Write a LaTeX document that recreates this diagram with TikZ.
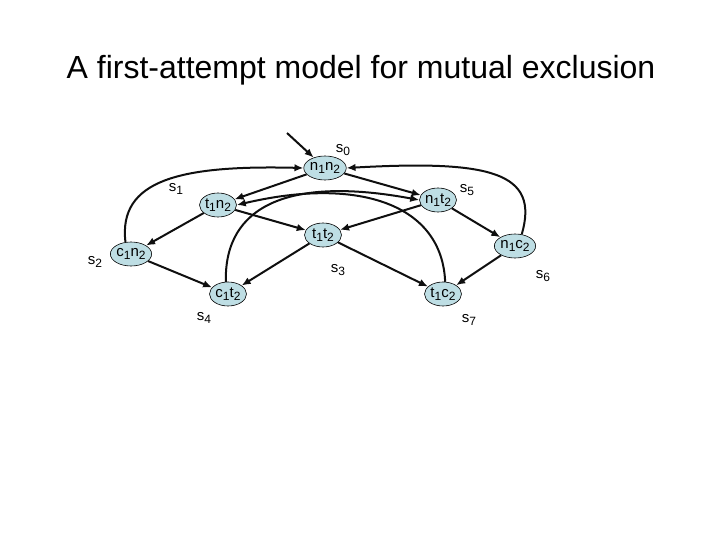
\documentclass[tikz,border=0pt]{standalone}
\usepackage{fontspec}
\setmainfont{Liberation Sans}
\usetikzlibrary{arrows.meta, shapes.geometric}
\definecolor{statefill}{RGB}{190, 222, 228}
\definecolor{edgeink}{RGB}{15, 15, 15}
\newcommand{\lowidx}[1]{\raisebox{-3.5pt}{\fontsize{12}{12}\selectfont #1}}

\begin{document}
\begin{tikzpicture}[
        x=1pt, y=-1pt,
        every node/.style={font=\fontsize{15}{17}\selectfont},
        state/.style={ellipse, draw=black, fill=statefill, line width=0.6pt,
                      minimum width=37pt, minimum height=24pt, inner sep=0pt},
        lbl/.style={font=\fontsize{15}{17}\selectfont, inner sep=0pt},
        arr/.style={-{Latex[length=9pt, width=7.5pt]}, line width=2pt, edgeink},
        ttl/.style={font=\fontsize{32}{36}\selectfont, inner sep=0pt}
      ]
        \useasboundingbox (0,0) rectangle (720,540);

        \node[ttl] (title) at (361,70) {A first-attempt model for mutual exclusion};

        % states
        \node[state] (n1n2) at (325,168) {n\lowidx{1}n\lowidx{2}};
        \node[state] (t1n2) at (218,205) {t\lowidx{1}n\lowidx{2}};
        \node[state] (c1n2) at (131,254) {c\lowidx{1}n\lowidx{2}};
        \node[state] (t1t2) at (323,235) {t\lowidx{1}t\lowidx{2}};
        \node[state] (c1t2) at (228,294) {c\lowidx{1}t\lowidx{2}};
        \node[state] (n1t2) at (438,200) {n\lowidx{1}t\lowidx{2}};
        \node[state] (n1c2) at (515,246) {n\lowidx{1}c\lowidx{2}};
        \node[state] (t1c2) at (443,294) {t\lowidx{1}c\lowidx{2}};

        % state names
        \node[lbl] (s0) at (343,150) {s\lowidx{0}};
        \node[lbl] (s1) at (176,189) {s\lowidx{1}};
        \node[lbl] (s2) at (95,262)  {s\lowidx{2}};
        \node[lbl] (s3) at (338,270) {s\lowidx{3}};
        \node[lbl] (s4) at (204,318) {s\lowidx{4}};
        \node[lbl] (s5) at (467,190) {s\lowidx{5}};
        \node[lbl] (s6) at (543,276) {s\lowidx{6}};
        \node[lbl] (s7) at (469,320) {s\lowidx{7}};

        \coordinate (init) at (287,133);
        \draw[arr] (init) -- (n1n2);

        \draw[arr] (n1n2) -- (t1n2);
        \draw[arr] (n1n2) -- (n1t2);
        \draw[arr] (t1n2) -- (c1n2);
        \draw[arr] (t1n2) -- (t1t2);
        \draw[arr] (n1t2) -- (t1t2);
        \draw[arr] (n1t2) -- (n1c2);
        \draw[arr] (c1n2) -- (c1t2);
        \draw[arr] (t1t2) -- (c1t2);
        \draw[arr] (t1t2) -- (t1c2);
        \draw[arr] (n1c2) -- (t1c2);

        % back edges
        \draw[arr] (c1n2.115) .. controls (118,180) and (180,165) .. (n1n2.west);
        \draw[arr] (n1c2.60) .. controls (540,172) and (490,160) .. (n1n2.east);
        \draw[arr] (c1t2.100) .. controls (224,205) and (290,176) .. (n1t2.west);
        \draw[arr] (t1c2.80) .. controls (442,205) and (360,176) .. (t1n2.east);
      \end{tikzpicture}
\end{document}
